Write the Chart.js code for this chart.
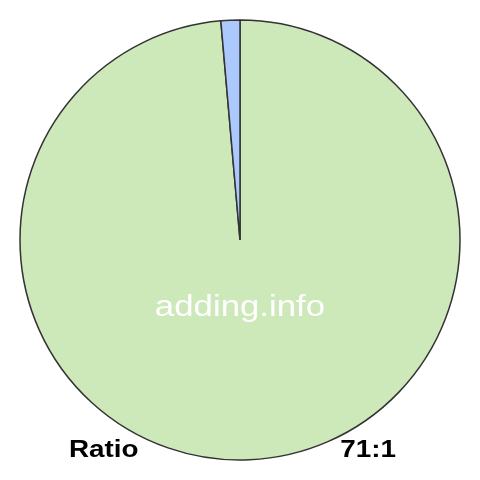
<!DOCTYPE html>
<html>
<head>
<meta charset="utf-8">
<script src="https://cdn.jsdelivr.net/npm/chart.js@4"></script>
<style>
  html, body { margin: 0; padding: 0; background: #ffffff; }
  #wrap { width: 480px; height: 480px; }
</style>
</head>
<body>
<div id="wrap"><canvas id="ratioChart" width="480" height="480"></canvas></div>
<script>
// data
const labels = ["Pertama", "Kedua"];
const values = [71, 1];
const colors = ["#cde8b9", "#abc9fd"];
const captionLeft = "Ratio";
const captionRight = values[0] + ":" + values[1];
const watermark = "adding.info";

// teks tambahan digambar setelah pie selesai
const textPlugin = {
    id: 'ratioText',
    afterDraw(chart) {
        const ctx = chart.ctx;
        const stretch = 1.16;

        function drawStretched(text, x, y, font, color, align) {
            ctx.save();
            ctx.font = font;
            ctx.fillStyle = color;
            ctx.textAlign = align;
            ctx.textBaseline = 'alphabetic';
            ctx.translate(x, y);
            ctx.scale(stretch, 1);
            ctx.fillText(text, 0, 0);
            ctx.restore();
        }

        drawStretched(watermark, 240, 316, '30px "Liberation Sans", Arial, sans-serif', '#ffffff', 'center');
        drawStretched(captionLeft, 69, 457, 'bold 24px "Liberation Sans", Arial, sans-serif', '#000000', 'left');
        drawStretched(captionRight, 396, 457, 'bold 24px "Liberation Sans", Arial, sans-serif', '#000000', 'right');
    }
};

const ctx = document.getElementById('ratioChart').getContext('2d');
new Chart(ctx, {
    type: 'pie',
    data: {
        labels: labels,
        datasets: [{
            data: values,
            backgroundColor: colors,
            borderColor: '#333333',
            borderWidth: 1.5,
        }],
    },
    options: {
        responsive: false,
        animation: false,
        layout: { padding: 19.25 },
        plugins: {
            legend: { display: false },
            tooltip: { enabled: false },
        },
    },
    plugins: [textPlugin],
});
</script>
</body>
</html>
